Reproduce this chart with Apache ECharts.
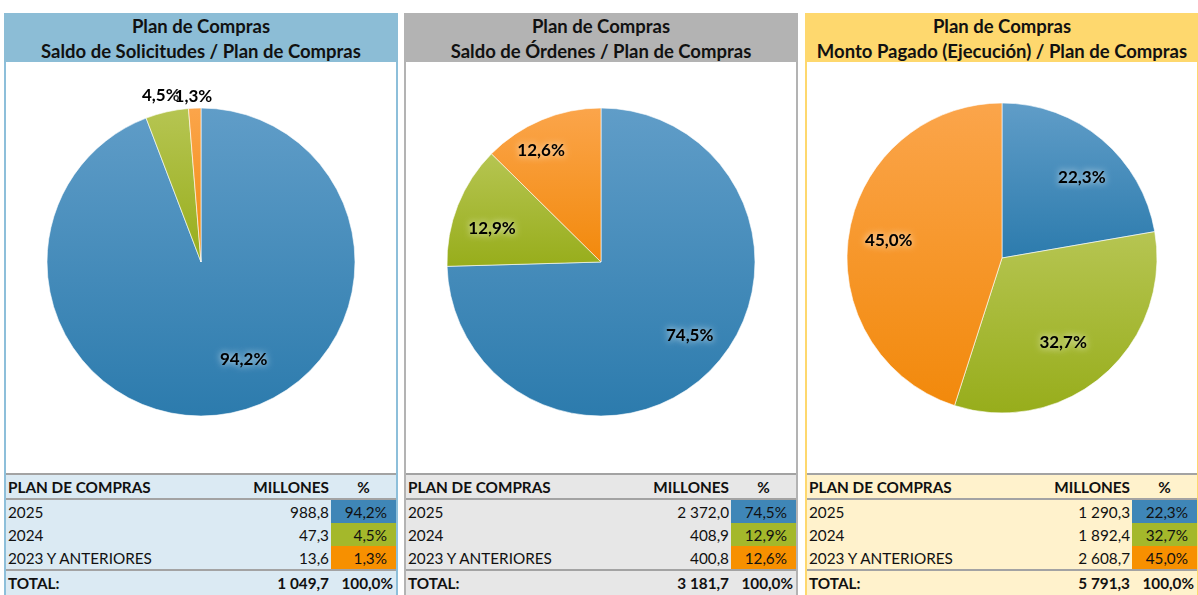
<!DOCTYPE html>
<html>
<head>
<meta charset="utf-8">
<script src="https://cdn.jsdelivr.net/npm/echarts@6/dist/echarts.min.js"></script>
<style>
    body { margin: 0; width: 1198px; height: 595px; overflow: hidden; background: #fff; font-family: Lato, "Open Sans", sans-serif; }
    .panel { position: absolute; top: 13px; width: 394px; height: 600px; box-sizing: border-box; border-left: 2px solid; border-right: 2px solid; }
    .head { margin: 0 -2px; height: 49px; text-align: center; font-weight: bold; font-size: 18.5px; line-height: 24.5px; color: #111; padding-top: 1px; box-sizing: border-box; white-space: nowrap; }
    .chart { width: 390px; height: 411px; background: #fff; }
    .tbl { font-size: 15.3px; color: #111; }
    .line { height: 2px; background: #a3a3a3; }
    .row { display: flex; height: 23px; line-height: 24px; }
    .row.head2 { font-weight: bold; }
    .row.tot { height: 24px; line-height: 25px; font-weight: bold; }
    .c1 { flex: 1; padding-left: 2px; white-space: nowrap; }
    .c2 { width: 120px; text-align: right; padding-right: 2px; }
    .c3 { width: 65px; text-align: right; padding-right: 9px; box-sizing: border-box; }
    .head2 .c3 { text-align: center; padding-right: 0; }
    .tot .c3 { padding-right: 3px; }
</style>
</head>
<body>
<div id="root"></div>
<script type="text/javascript">
    var categories = ['2025', '2024', '2023 Y ANTERIORES'];
    var titles = ['Saldo de Solicitudes / Plan de Compras', 'Saldo de Órdenes / Plan de Compras', 'Monto Pagado (Ejecución) / Plan de Compras'];
    var solicitudes = [988.8, 47.3, 13.6];
    var ordenes = [2372.0, 408.9, 400.8];
    var pagado = [1290.3, 1892.4, 2608.7];
    var solicitudesPct = [94.2, 4.5, 1.3];
    var ordenesPct = [74.5, 12.9, 12.6];
    var pagadoPct = [22.3, 32.7, 45.0];
    var totals = [1049.7, 3181.7, 5791.3];

    var panels = [
        { left: 4, head: '#8cbdd6', border: '#8dbfda', bg: '#dbeaf3', values: solicitudes, pct: solicitudesPct, center: [195, 200], r: 154,
          shift: { 0: [22, -14], 1: [-15, -55], 2: [-3, -52] } },
        { left: 404, head: '#b3b3b3', border: '#b3b3b3', bg: '#e7e7e7', values: ordenes, pct: ordenesPct, center: [195, 200], r: 154,
          shift: { 0: [7, -6], 1: [-3, 8], 2: [-16, -6] } },
        { left: 805, head: '#fed86e', border: '#fed86e', bg: '#fff2cc', values: pagado, pct: pagadoPct, center: [195, 196], r: 155,
          shift: { 0: [6, 7], 1: [-14, -2] } }
    ];

    var cellColors = ['#3f86b7', '#a4b82b', '#f79000'];
    var sliceColors = [['#609dc8', '#2c7bad'], ['#b6c552', '#97ad1b'], ['#fba54b', '#f2890b']];

    function fmtNum(v) {
        var s = v.toFixed(1).split('.');
        var n = s[0].replace(/\B(?=(\d{3})+(?!\d))/g, ' ');
        return n + ',' + s[1];
    }
    function fmtPct(v) {
        return v.toFixed(1).replace('.', ',') + '%';
    }

    var root = document.getElementById('root');
    panels.forEach(function (p, k) {
        var html = '<div class="panel" style="left:' + p.left + 'px;border-color:' + p.border + '">';
        html += '<div class="head" style="background:' + p.head + '">Plan de Compras<br>' + titles[k] + '</div>';
        html += '<div class="chart" id="chart' + k + '"></div>';
        html += '<div class="tbl" style="background:' + p.bg + '">';
        html += '<div class="line"></div>';
        html += '<div class="row head2"><div class="c1">PLAN DE COMPRAS</div><div class="c2">MILLONES</div><div class="c3">%</div></div>';
        html += '<div class="line"></div>';
        categories.forEach(function (c, i) {
            html += '<div class="row"><div class="c1">' + c + '</div><div class="c2">' + fmtNum(p.values[i]) +
                '</div><div class="c3" style="background:' + cellColors[i] + '">' + fmtPct(p.pct[i]) + '</div></div>';
        });
        html += '<div class="line"></div>';
        html += '<div class="row tot"><div class="c1">TOTAL:</div><div class="c2">' + fmtNum(totals[k]) + '</div><div class="c3">100,0%</div></div>';
        html += '</div></div>';
        root.insertAdjacentHTML('beforeend', html);
    });

    panels.forEach(function (p, k) {
        var chart = echarts.init(document.getElementById('chart' + k));
        var option = {
            animation: false,
            series: [{
                type: 'pie',
                radius: [0, p.r],
                center: p.center,
                startAngle: 90,
                clockwise: true,
                silent: true,
                label: { show: false },
                labelLine: { show: false },
                itemStyle: { borderColor: '#ffffff', borderWidth: 0.6 },
                data: p.values.map(function (v, i) {
                    return {
                        name: categories[i],
                        value: v,
                        itemStyle: {
                            color: new echarts.graphic.LinearGradient(0, 0, 0, 1, [
                                { offset: 0, color: sliceColors[i][0] },
                                { offset: 1, color: sliceColors[i][1] }
                            ])
                        }
                    };
                })
            }, {
                // transparent ring, only used to place the labels
                type: 'pie',
                radius: [p.r * 0.44, p.r],
                center: p.center,
                startAngle: 90,
                clockwise: true,
                silent: true,
                itemStyle: { color: 'rgba(0,0,0,0)' },
                label: {
                    show: true,
                    position: 'inside',
                    formatter: function (params) {
                        return fmtPct(p.pct[params.dataIndex]);
                    },
                    fontFamily: 'Lato',
                    fontWeight: 'bold',
                    fontSize: 17,
                    color: '#000',
                    textShadowColor: 'rgba(255,255,255,0.95)',
                    textShadowBlur: 7
                },
                labelLine: { show: false },
                labelLayout: function (params) {
                    var s = p.shift[params.dataIndex];
                    return s ? { dx: s[0], dy: s[1] } : {};
                },
                data: p.values.map(function (v, i) {
                    return { name: categories[i], value: v };
                })
            }]
        };
        chart.setOption(option);
    });
</script>
</body>
</html>
